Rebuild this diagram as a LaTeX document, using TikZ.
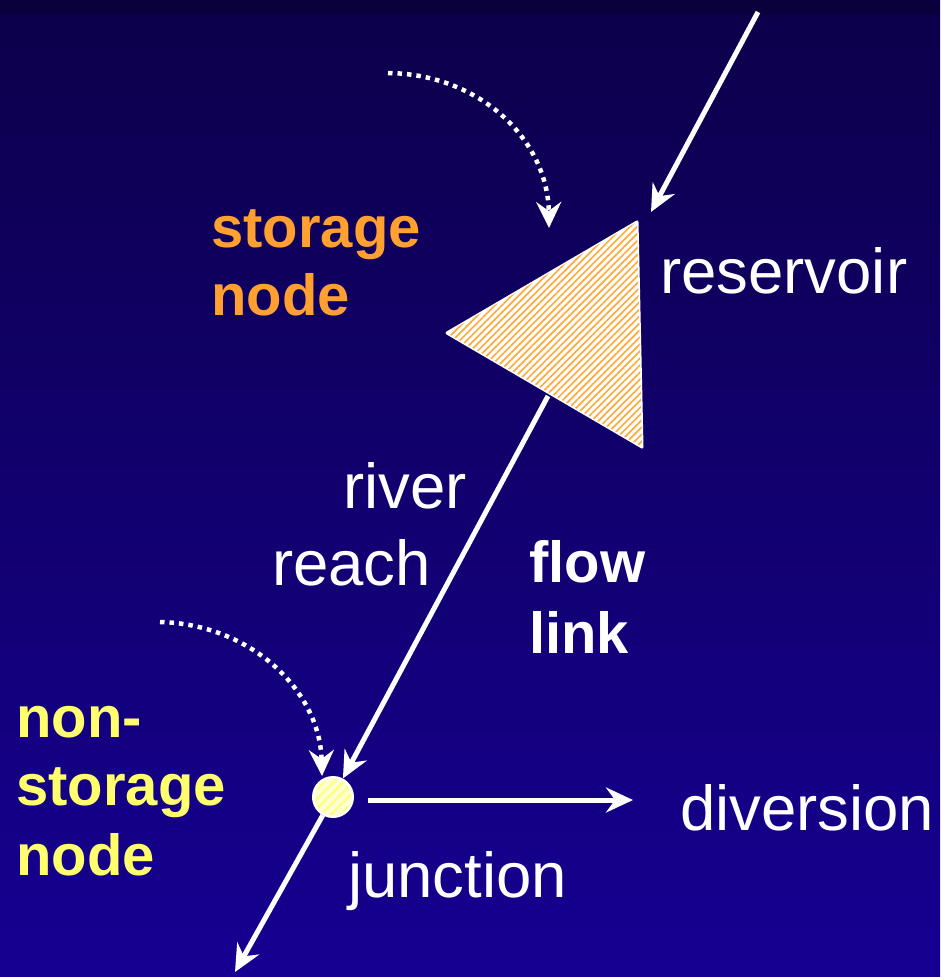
\documentclass[tikz,border=0pt]{standalone}
\usepackage{fontspec}
\setmainfont{Liberation Sans}
\usetikzlibrary{arrows.meta,patterns.meta}
\definecolor{bgtop}{RGB}{12,0,74}
\definecolor{bgbot}{RGB}{22,0,146}
\definecolor{storeorange}{RGB}{255,160,48}
\definecolor{hatchorange}{RGB}{255,170,60}
\definecolor{nsyellow}{RGB}{255,255,110}
\definecolor{juncfill}{RGB}{255,255,215}
\definecolor{juncstripe}{RGB}{255,255,130}
\tikzset{
  flowarrow/.style={draw=white, line width=5pt, -{Stealth[length=27pt,width=25pt,inset=9pt]}},
  dotarrow/.style={draw=white, line width=4.5pt, dash pattern=on 4.5pt off 5pt, -{Stealth[length=26pt,width=25pt,inset=9pt]}},
  regtext/.style={text=white, font=\fontsize{63.5}{63.5}\selectfont, anchor=base west, inner sep=0pt},
  boldtext/.style={font=\fontsize{58}{58}\selectfont\bfseries, anchor=base west, inner sep=0pt},
}
\begin{document}
\begin{tikzpicture}[x=1pt,y=-1pt]
\useasboundingbox (0,0) rectangle (940,977);
\shade[top color=bgtop, bottom color=bgbot] (0,0) rectangle (940,977);
\fill[bgtop!80!black] (0,0) rectangle (940,14);

% key points
\coordinate (tA) at (447,333);
\coordinate (tB) at (637,222);
\coordinate (tC) at (642,447);
\coordinate (reachstart) at (548,396);
\coordinate (inflowstart) at (758,12);
\coordinate (inflowend) at (651,212);
\coordinate (divend) at (633,800);
\coordinate (outend) at (235,972);
\coordinate (dot1start) at (388,73);
\coordinate (dot1end) at (549,228);
\coordinate (dot2start) at (160,622);
\coordinate (dot2end) at (322,776);

% reservoir (storage node)
\node[draw=none, inner sep=0pt, minimum size=0pt] (reservoir) at (575,334) {};
\filldraw[draw=white, line width=3pt, line join=round, fill=white] (tA) -- (tB) -- (tC) -- cycle;
\fill[pattern={Lines[angle=45,distance=5pt,line width=1.7pt]}, pattern color=hatchorange] (tA) -- (tB) -- (tC) -- cycle;

% junction (non-storage node)
\node[circle, draw=white, line width=2pt, fill=juncfill, minimum size=40pt, inner sep=0pt] (junc) at (333,797) {};
\fill[pattern={Lines[angle=45,distance=7pt,line width=2.5pt]}, pattern color=juncstripe] (junc.center) circle (18pt);

% flows
\draw[flowarrow] (inflowstart) -- (inflowend);
\draw[flowarrow] (reachstart) -- (junc);
\draw[flowarrow, shorten <=14pt] (junc.east |- divend) -- (divend);
\draw[flowarrow] (junc) -- (outend);

% dotted pointers
\draw[dotarrow] (dot1start) .. controls (480,74) and (548,140) .. (dot1end);
\draw[dotarrow] (dot2start) .. controls (250,624) and (320,690) .. (dot2end);

% labels
\node[boldtext, text=storeorange] (lstorage) at (211,247) {storage};
\node[boldtext, text=storeorange] (lnode) at (211,315) {node};
\node[regtext] (lres) at (660,293) {reservoir};
\node[regtext] (lriver) at (343,508) {river};
\node[regtext] (lreach) at (272,585) {reach};
\node[boldtext, text=white] (lflow) at (529,582) {flow};
\node[boldtext, text=white] (llink) at (529,653) {link};
\node[boldtext, text=nsyellow] (lnon) at (16,737) {non-};
\node[boldtext, text=nsyellow] (lstorage2) at (16,805) {storage};
\node[boldtext, text=nsyellow] (lnode2) at (16,875) {node};
\node[regtext] (ldiv) at (680,830) {diversion};
\node[regtext] (ljunc) at (348,897) {junction};
\end{tikzpicture}
\end{document}
